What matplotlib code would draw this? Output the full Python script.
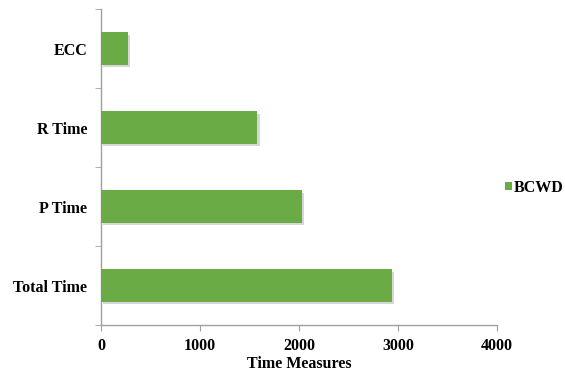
import matplotlib
matplotlib.use("Agg")
import matplotlib.pyplot as plt
import matplotlib.patheffects as pe
from matplotlib.patches import Patch
import numpy as np

categories = ["Total Time", "P Time", "R Time", "ECC"]
bcwd = [2940, 2030, 1580, 270]
x_ticks = [0, 1000, 2000, 3000, 4000]

plt.rcParams["font.family"] = ["Liberation Serif", "DejaVu Serif"]
plt.rcParams["font.weight"] = "bold"

FS = 11.5
BAR_COLOR = "#6aab45"

fig = plt.figure(figsize=(5.65, 3.75), dpi=100)
ax = fig.add_axes([0.1788, 0.1333, 0.7008, 0.8427])

y = np.arange(len(categories))
bars = ax.barh(y, bcwd, height=0.41, color=BAR_COLOR, zorder=3)
for b in bars:
    b.set_path_effects([pe.SimplePatchShadow(offset=(1.5, -2), shadow_rgbFace="#999999", alpha=0.4),
                        pe.Normal()])

ax.set_xlim(0, 4000)
ax.set_ylim(-0.5, len(categories) - 0.5)
ax.set_xticks(x_ticks)
ax.set_xticklabels([str(v) for v in x_ticks], fontsize=FS, fontweight="bold")
ax.set_yticks(y)
ax.set_yticklabels(categories, fontsize=FS, fontweight="bold")
ax.set_yticks(np.arange(-0.5, len(categories) + 0.5, 1), minor=True)
ax.tick_params(axis="y", which="major", length=0, pad=10)
ax.tick_params(axis="y", which="minor", length=4, color="#a0a0a0", direction="out")
ax.tick_params(axis="x", which="major", length=4, color="#a0a0a0", direction="out", pad=5)

for side in ("top", "right"):
    ax.spines[side].set_visible(False)
for side in ("left", "bottom"):
    ax.spines[side].set_color("#a0a0a0")
    ax.spines[side].set_linewidth(1.0)

ax.set_xlabel("Time Measures", fontsize=FS, fontweight="bold", labelpad=2)

handle = Patch(facecolor=BAR_COLOR, edgecolor="none")
fig.legend(handles=[handle], labels=["BCWD"], loc="center left",
           bbox_to_anchor=(0.893, 0.5), frameon=False,
           borderaxespad=0, borderpad=0,
           prop={"size": FS, "weight": "bold"},
           handlelength=0.45, handleheight=0.45, handletextpad=0.15)

fig.savefig("out.png", dpi=100, facecolor="white")
